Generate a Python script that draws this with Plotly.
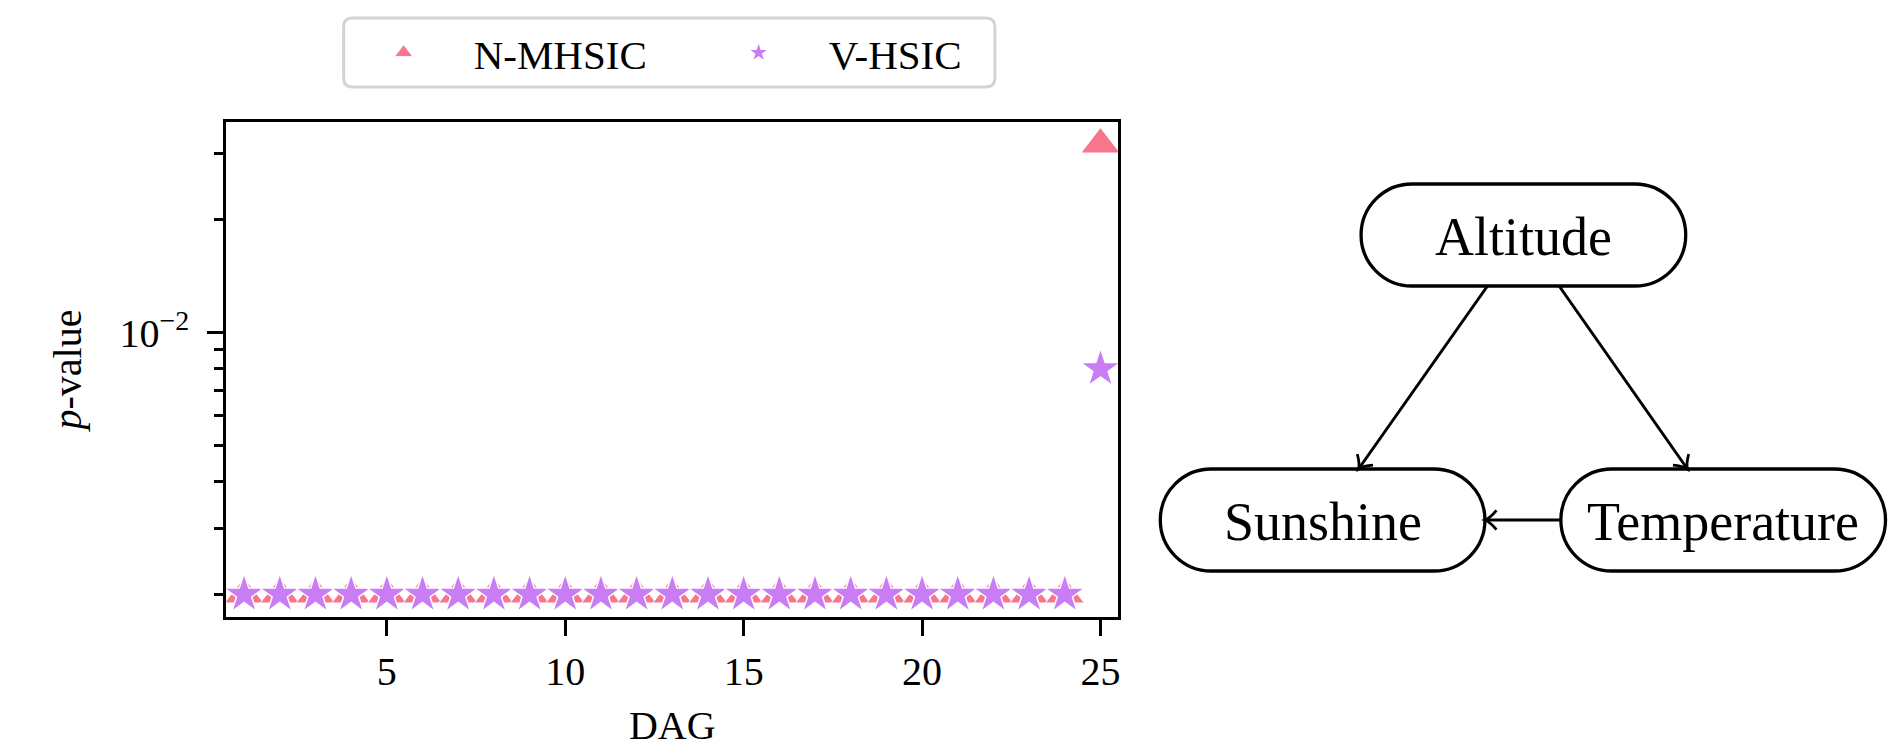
import math
import plotly.graph_objects as go

# ---------------- data ----------------
dags = [1, 2, 3, 4, 5, 6, 7, 8, 9, 10, 11, 12, 13, 14, 15, 16, 17, 18, 19, 20, 21, 22, 23, 24, 25]
n_mhsic_pvalues = [0.002, 0.002, 0.002, 0.002, 0.002, 0.002, 0.002, 0.002, 0.002, 0.002,
                   0.002, 0.002, 0.002, 0.002, 0.002, 0.002, 0.002, 0.002, 0.002, 0.002,
                   0.002, 0.002, 0.002, 0.002, 0.0318]
v_hsic_pvalues = [0.002, 0.002, 0.002, 0.002, 0.002, 0.002, 0.002, 0.002, 0.002, 0.002,
                  0.002, 0.002, 0.002, 0.002, 0.002, 0.002, 0.002, 0.002, 0.002, 0.002,
                  0.002, 0.002, 0.002, 0.002, 0.008]
series_names = ["N-MHSIC", "V-HSIC"]
x_tick_values = [5, 10, 15, 20, 25]
y_tick_values = [0.01]
y_tick_labels = ["10<sup>\u22122</sup>"]
y_minor_tick_values = [0.002, 0.003, 0.004, 0.005, 0.006, 0.007, 0.008, 0.009, 0.02, 0.03]

dag_nodes = ["Altitude", "Sunshine", "Temperature"]
dag_edges = [("Altitude", "Sunshine"), ("Altitude", "Temperature"), ("Temperature", "Sunshine")]

# ---------------- styles / layout ----------------
W, H = 1904, 748
PINK = "#f7768b"
PURPLE = "#c97cf3"
FONT = "Liberation Serif"

# node placement of the diagram (pixel units of an overlay axis)
node_layout = {"Altitude": (1525, 235), "Sunshine": (1324, 520), "Temperature": (1725, 520)}
NODE_W, NODE_H = 325, 102

# plot area in pixels (frame line centre)
PL, PR, PT, PB = 225, 1121, 120.5, 618.5
LW = 3

# y range like matplotlib autoscale on log axis (5% margins)
all_vals = n_mhsic_pvalues + v_hsic_pvalues
lo, hi = math.log10(min(all_vals)), math.log10(max(all_vals))
pad = 0.05 * (hi - lo)
y_range = [lo - pad, hi + pad]
x_range = [min(dags) - 0.5, max(dags) + 0.5]

fig = go.Figure()
fig.add_trace(go.Scatter(
    x=dags, y=n_mhsic_pvalues, mode="markers", name=series_names[0],
    marker=dict(symbol="triangle-up", size=34, color=PINK, line=dict(color="white", width=1)),
    xaxis="x", yaxis="y"))
fig.add_trace(go.Scatter(
    x=dags, y=v_hsic_pvalues, mode="markers", name=series_names[1],
    marker=dict(symbol="star", size=30, color=PURPLE, line=dict(color="white", width=1.5)),
    xaxis="x", yaxis="y"))

half = LW / 2
x_dom = [(PL + half) / W, (PR - half) / W]
y_dom = [(H - (PB - half)) / H, (H - (PT + half)) / H]

axis_common = dict(showline=True, linewidth=LW, linecolor="black", mirror=True,
                   showgrid=False, zeroline=False, ticks="outside", tickwidth=LW,
                   ticklen=16, tickcolor="black",
                   tickfont=dict(family=FONT, size=40, color="black"))

shapes = []
annotations = []


def stadium_path(cx, cy, w, h):
    r = h / 2
    k = 0.5523 * r
    x1, x2 = cx - w / 2 + r, cx + w / 2 - r
    t, b = cy - r, cy + r
    return (f"M{x1},{t} L{x2},{t} C{x2 + k},{t} {x2 + r},{cy - k} {x2 + r},{cy} "
            f"C{x2 + r},{cy + k} {x2 + k},{b} {x2},{b} L{x1},{b} "
            f"C{x1 - k},{b} {x1 - r},{cy + k} {x1 - r},{cy} "
            f"C{x1 - r},{cy - k} {x1 - k},{t} {x1},{t} Z")


def rounded_rect(x0, y0, x1, y1, r):
    return (f"M{x0 + r},{y0} L{x1 - r},{y0} Q{x1},{y0} {x1},{y0 + r} L{x1},{y1 - r} "
            f"Q{x1},{y1} {x1 - r},{y1} L{x0 + r},{y1} Q{x0},{y1} {x0},{y1 - r} "
            f"L{x0},{y0 + r} Q{x0},{y0} {x0 + r},{y0} Z")


def border_point(center, target, w, h):
    cx, cy = center
    dx, dy = target[0] - cx, target[1] - cy
    L = math.hypot(dx, dy)
    ux, uy = dx / L, dy / L
    r = h / 2
    hw = w / 2 - r

    def inside(t):
        px, py = cx + ux * t, cy + uy * t
        qx = min(max(px, cx - hw), cx + hw)
        return (px - qx) ** 2 + (py - cy) ** 2 <= r * r

    a, b = 0.0, float(w + h)
    for _ in range(60):
        m = (a + b) / 2
        if inside(m):
            a = m
        else:
            b = m
    return cx + ux * a, cy + uy * a


# legend frame (rounded)
shapes.append(dict(type="path", xref="x2", yref="y2", path=rounded_rect(344, 18, 996, 87, 9),
                   line=dict(color="#d4d4d4", width=3), fillcolor="rgba(255,255,255,0.8)",
                   layer="below"))

# diagram nodes
for name in dag_nodes:
    cx, cy = node_layout[name]
    shapes.append(dict(type="path", xref="x2", yref="y2", path=stadium_path(cx, cy, NODE_W, NODE_H),
                       line=dict(color="black", width=3.3), fillcolor="rgba(0,0,0,0)"))
    annotations.append(dict(x=cx, y=cy + 2, xref="x2", yref="y2", text=name, showarrow=False,
                            font=dict(family=FONT, size=54, color="black")))

# diagram edges
ARM, ANG = 15, math.radians(40)
for src, dst in dag_edges:
    s = border_point(node_layout[src], node_layout[dst], NODE_W, NODE_H)
    e = border_point(node_layout[dst], node_layout[src], NODE_W, NODE_H)
    shapes.append(dict(type="line", xref="x2", yref="y2", x0=s[0], y0=s[1], x1=e[0], y1=e[1],
                       line=dict(color="black", width=3)))
    dx, dy = e[0] - s[0], e[1] - s[1]
    L = math.hypot(dx, dy)
    ux, uy = dx / L, dy / L
    nx, ny = -uy, ux
    bx, by = e[0] - ux * ARM * math.cos(ANG), e[1] - uy * ARM * math.cos(ANG)
    a1 = (bx + nx * ARM * math.sin(ANG), by + ny * ARM * math.sin(ANG))
    a2 = (bx - nx * ARM * math.sin(ANG), by - ny * ARM * math.sin(ANG))
    c1 = (e[0] - ux * ARM * 0.35 + nx * 2.0, e[1] - uy * ARM * 0.35 + ny * 2.0)
    c2 = (e[0] - ux * ARM * 0.35 - nx * 2.0, e[1] - uy * ARM * 0.35 - ny * 2.0)
    shapes.append(dict(type="path", xref="x2", yref="y2",
                       path=(f"M{a1[0]},{a1[1]} Q{c1[0]},{c1[1]} {e[0]},{e[1]} "
                             f"Q{c2[0]},{c2[1]} {a2[0]},{a2[1]}"),
                       line=dict(color="black", width=2.8), fillcolor="rgba(0,0,0,0)"))

fig.update_layout(
    width=W, height=H,
    margin=dict(l=0, r=0, t=0, b=0, pad=0),
    paper_bgcolor="white", plot_bgcolor="rgba(0,0,0,0)",
    font=dict(family=FONT, color="black"),
    xaxis=dict(domain=x_dom, range=x_range, tickmode="array", tickvals=x_tick_values,
               ticklabelstandoff=1, anchor="y",
               title=dict(text="DAG", font=dict(family=FONT, size=40, color="black"), standoff=26),
               **axis_common),
    yaxis=dict(domain=y_dom, type="log", range=y_range, tickmode="array", tickvals=y_tick_values,
               ticktext=y_tick_labels, ticklabelstandoff=10, anchor="x",
               minor=dict(tickmode="array", tickvals=y_minor_tick_values, ticks="outside",
                          ticklen=9, tickwidth=2.5, tickcolor="black", showgrid=False),
               title=dict(text="<i>p</i>-value", font=dict(family=FONT, size=40, color="black"),
                          standoff=26),
               **axis_common),
    xaxis2=dict(domain=[0, 1], range=[0, W], visible=False, anchor="y2", fixedrange=True),
    yaxis2=dict(domain=[0, 1], range=[H, 0], visible=False, anchor="x2", fixedrange=True),
    showlegend=True,
    legend=dict(orientation="h", x=334 / W, xanchor="left", y=1 - 53 / H, yanchor="middle",
                itemwidth=130, entrywidth=210, bgcolor="rgba(0,0,0,0)", borderwidth=0,
                font=dict(family=FONT, size=41, color="black")),
    shapes=shapes,
    annotations=annotations,
)

fig.write_html("out.html", config={"displayModeBar": False},
               post_script="document.body.style.margin='0px';document.body.style.padding='0px';"
                           "document.body.style.overflow='hidden';")
